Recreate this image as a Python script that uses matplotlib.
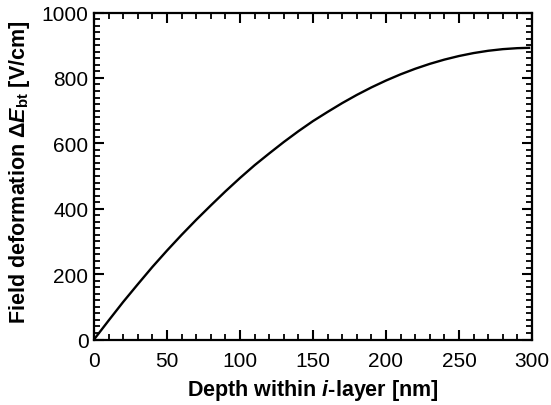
import matplotlib
matplotlib.use("Agg")
import matplotlib.pyplot as plt
from matplotlib.ticker import MultipleLocator

plt.rcParams["font.family"] = ["Liberation Sans", "DejaVu Sans"]
plt.rcParams["mathtext.fontset"] = "custom"
plt.rcParams["mathtext.rm"] = "Liberation Sans:bold"
plt.rcParams["mathtext.bf"] = "Liberation Sans:bold"
plt.rcParams["mathtext.it"] = "Liberation Sans:bold:italic"

# Field deformation versus depth inside the intrinsic layer
depth_nm = [0, 10, 20, 30, 40, 50, 60, 70, 80, 90, 100, 110, 120, 130, 140,
            150, 160, 170, 180, 190, 200, 210, 220, 230, 240, 250, 260, 270,
            280, 290, 298]
delta_e = [0, 58, 115, 169, 222, 272, 320, 366, 410, 453, 494, 533, 569, 604,
           637, 668, 696, 723, 748, 771, 792, 811, 828, 843, 856, 867, 876,
           883, 888, 891, 892]

fig = plt.figure(figsize=(5.51, 4.06), dpi=100)
ax = fig.add_axes([0.1706, 0.1613, 0.7949, 0.8054])

ax.plot(depth_nm, delta_e, color="black", lw=1.7)

ax.set_xlim(0, 300)
ax.set_ylim(0, 1000)
ax.xaxis.set_major_locator(MultipleLocator(50))
ax.xaxis.set_minor_locator(MultipleLocator(10))
ax.yaxis.set_major_locator(MultipleLocator(200))
ax.yaxis.set_minor_locator(MultipleLocator(20))

for s in ax.spines.values():
    s.set_linewidth(1.6)
ax.tick_params(which="both", direction="in", top=True, right=True,
               labelsize=15)
ax.tick_params(axis="x", which="both", pad=8)
ax.tick_params(axis="y", which="both", pad=4)
ax.tick_params(which="major", length=7, width=1.5)
ax.tick_params(which="minor", length=4, width=1.3)

ax.set_xlabel(r"Depth within $\mathit{i}$-layer [nm]", fontsize=15.5,
              fontweight="bold", labelpad=5)
ax.set_ylabel(r"Field deformation $\mathit{ΔE}_{\mathrm{bt}}$ [V/cm]",
              fontsize=15.5, fontweight="bold")
ax.yaxis.set_label_coords(-0.142, 0.515)

fig.savefig("out.png", dpi=100)
